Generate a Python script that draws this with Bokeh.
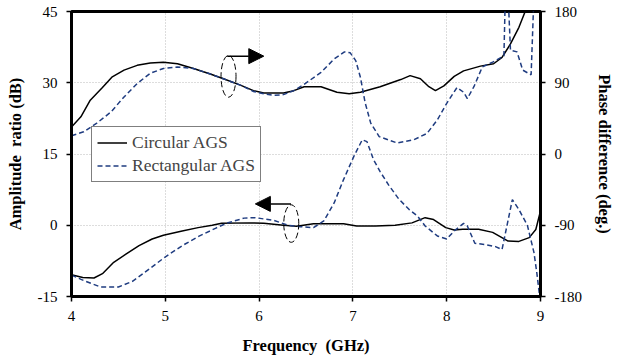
from bokeh.plotting import figure
from bokeh.models import (Range1d, LinearAxis, FixedTicker, Legend, LegendItem,
                          Arrow, NormalHead, PrintfTickFormatter)
from bokeh.embed import file_html
from bokeh.resources import INLINE

# ---------------- data ----------------
freq_circ_phase = [4.0, 4.1, 4.2, 4.33, 4.43, 4.56, 4.7, 4.84, 4.98, 5.13,
                   5.3, 5.48, 5.62, 5.8, 5.94, 6.05, 6.26, 6.37, 6.48, 6.66,
                   6.83, 6.96, 7.08, 7.29, 7.51, 7.61, 7.72, 7.81, 7.88, 7.97,
                   8.08, 8.18, 8.36, 8.5, 8.59, 8.68, 8.77, 8.84, 8.9]
circ_phase = [34, 47, 68, 84, 97, 106, 112, 115, 116, 114,
              108, 101, 95, 87, 80, 77, 77, 80, 85, 85,
              78, 76, 78, 85, 94, 99, 95, 85, 80, 86,
              98, 105, 111, 114, 122, 139, 160, 181, 200]

freq_rect_phase = [4.0, 4.13, 4.27, 4.42, 4.56, 4.7, 4.84, 4.98, 5.13, 5.3,
                   5.48, 5.62, 5.8, 5.94, 6.05, 6.16, 6.26, 6.37, 6.48, 6.66,
                   6.8, 6.91, 6.97, 7.03, 7.08, 7.13, 7.19, 7.28, 7.47, 7.65,
                   7.79, 7.9, 8.0, 8.11, 8.18, 8.22, 8.29, 8.38, 8.49, 8.61,
                   8.625, 8.655, 8.68, 8.75, 8.81, 8.9, 8.93]
rect_phase = [23, 28, 39, 53, 72, 89, 102, 108, 110, 108,
              101, 95, 87, 79, 76, 74, 75, 80, 88, 103,
              120, 129, 128, 118, 97, 65, 39, 22, 14, 18,
              26, 43, 64, 84, 78, 70, 85, 110, 116, 124,
              200, 200, 131, 129, 106, 100, 200]

freq_circ_amp = [4.0, 4.12, 4.24, 4.33, 4.45, 4.58, 4.72, 4.86, 4.98, 5.18,
                 5.35, 5.5, 5.6, 5.9, 6.05, 6.26, 6.4, 6.58, 6.9, 7.04,
                 7.24, 7.45, 7.63, 7.77, 7.86, 7.99, 8.08, 8.17, 8.34, 8.49,
                 8.65, 8.77, 8.88, 8.95, 9.0]
circ_amp = [-10.4, -11.0, -11.1, -10.2, -7.8, -6.1, -4.3, -2.9, -2.1, -1.2,
            -0.5, 0.0, 0.4, 0.5, 0.4, 0.0, -0.2, 0.3, 0.3, -0.15,
            -0.15, 0.0, 0.5, 1.6, 1.2, -0.5, -1.0, -0.85, -0.85, -1.5,
            -3.3, -3.4, -2.6, -0.9, 3.0]

freq_rect_amp = [4.0, 4.15, 4.31, 4.5, 4.65, 4.83, 4.99, 5.18, 5.36, 5.54,
                 5.65, 5.84, 5.96, 6.16, 6.31, 6.44, 6.58, 6.69, 6.8, 6.9,
                 7.01, 7.1, 7.15, 7.22, 7.29, 7.38, 7.49, 7.6, 7.69, 7.77,
                 7.9, 8.0, 8.08, 8.18, 8.22, 8.3, 8.42, 8.52, 8.59, 8.7,
                 8.77, 8.86, 8.93, 8.96, 8.99]
rect_amp = [-10.5, -11.8, -13.0, -13.0, -11.8, -9.2, -6.8, -4.3, -2.3, -0.6,
            0.4, 1.5, 1.6, 1.0, 0.0, -0.3, -0.5, 0.9, 4.7, 9.6,
            14.5, 18.0, 17.6, 13.8, 11.3, 8.5, 5.5, 3.3, 1.9, -0.15,
            -2.25, -2.9, -1.2, 0.4, -0.15, -3.8, -4.1, -4.5, -5.1, 5.4,
            3.3, 0.0, -5.7, -9.9, -14.8]

x_ticks = [4, 5, 6, 7, 8, 9]
amp_ticks = [-15, 0, 15, 30, 45]
phase_ticks = [-180, -90, 0, 90, 180]
series_names = ["Circular AGS", "Rectangular AGS"]

# ---------------- styling ----------------
FONT = "'Liberation Serif', 'Times New Roman', serif"
NAVY = "#1f3c80"

p = figure(width=622, height=357, output_backend="svg", toolbar_location=None,
           x_range=Range1d(4, 9), y_range=Range1d(-15, 45),
           min_border_left=71, min_border_right=82, min_border_top=11,
           min_border_bottom=59)
p.extra_y_ranges = {"phase": Range1d(-180, 180)}

p.outline_line_color = "black"
p.outline_line_width = 3
p.outline_line_alpha = 1.0
p.background_fill_color = "white"
p.border_fill_color = "white"

p.xaxis.ticker = FixedTicker(ticks=x_ticks)
p.yaxis.ticker = FixedTicker(ticks=amp_ticks)
p.xaxis.axis_label = "Frequency\u00a0 (GHz)"
p.yaxis.axis_label = "Amplitude\u00a0 ratio (dB)"

right_axis = LinearAxis(y_range_name="phase", ticker=FixedTicker(ticks=phase_ticks),
                        axis_label="Phase difference (deg.)")
p.add_layout(right_axis, "right")

for ax in [p.xaxis[0], p.yaxis[0], right_axis]:
    ax.formatter = PrintfTickFormatter(format="%d")
    ax.axis_line_color = "black"
    ax.axis_line_width = 3
    ax.major_tick_line_color = "black"
    ax.major_tick_line_width = 1.5
    ax.major_tick_out = 5
    ax.major_tick_in = 0
    ax.minor_tick_line_color = None
    ax.major_label_text_font = FONT
    ax.major_label_text_font_size = "15px"
    ax.major_label_text_color = "black"
    ax.major_label_standoff = 9
    ax.axis_label_text_font = FONT
    ax.axis_label_text_font_size = "16.5px"
    ax.axis_label_text_font_style = "bold"
    ax.axis_label_text_color = "black"
    ax.axis_label_standoff = 10

p.xaxis.axis_label_standoff = 12

p.xgrid.grid_line_color = "#bbbbbb"
p.xgrid.grid_line_dash = "1 2"
p.ygrid.grid_line_color = "#bbbbbb"
p.ygrid.grid_line_dash = "1 2"

# ---------------- curves ----------------
r_cp = p.line(freq_circ_phase, circ_phase, y_range_name="phase",
              line_color="black", line_width=1.5)
r_rp = p.line(freq_rect_phase, rect_phase, y_range_name="phase",
              line_color=NAVY, line_width=1.5, line_dash="5 3")
r_ca = p.line(freq_circ_amp, circ_amp, line_color="black", line_width=1.5)
r_ra = p.line(freq_rect_amp, rect_amp, line_color=NAVY, line_width=1.5,
              line_dash="5 3")

# ---------------- annotations (ellipses + arrows) ----------------
ell_x = [5.674, 6.343]
ell_y = [31.35, 0.36]
p.ellipse(x=ell_x, y=ell_y, width=0.16, height=[8.8, 7.9],
          fill_color=None, line_color="black", line_width=1, line_dash="6 3")

p.add_layout(Arrow(end=NormalHead(size=15, fill_color="black", line_color="black"),
                   x_start=5.66, y_start=35.6, x_end=6.05, y_end=35.6,
                   line_color="black", line_width=1.5))
p.add_layout(Arrow(end=NormalHead(size=15, fill_color="black", line_color="black"),
                   x_start=6.34, y_start=4.5, x_end=5.96, y_end=4.5,
                   line_color="black", line_width=1.5))

# ---------------- legend ----------------
legend = Legend(items=[LegendItem(label=series_names[0], renderers=[r_cp]),
                       LegendItem(label=series_names[1], renderers=[r_rp])],
                location=(20, 114), margin=0, padding=5, spacing=2,
                glyph_width=30, glyph_height=17, label_height=17,
                label_standoff=5,
                label_text_font=FONT, label_text_font_size="17.5px",
                border_line_color="black", border_line_width=1,
                background_fill_color="white", background_fill_alpha=1.0)
p.add_layout(legend, "center")

open("out.html", "w").write(file_html(p, INLINE))
